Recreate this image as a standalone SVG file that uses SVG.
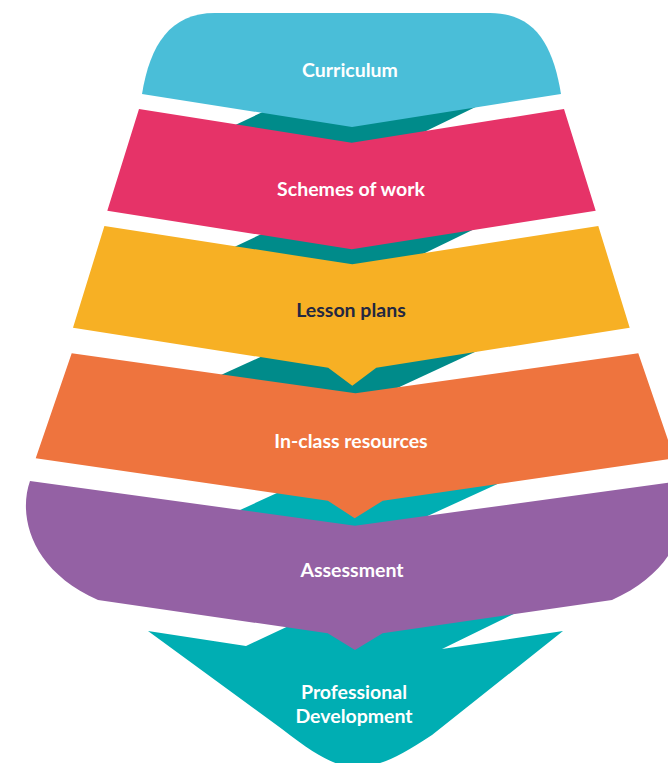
<svg xmlns="http://www.w3.org/2000/svg" width="668" height="763" viewBox="0 0 668 763">
<style>
.lbl{font-family:Lato,"Open Sans","Liberation Sans",sans-serif;font-weight:700;font-size:19.5px;text-anchor:middle;fill:#ffffff}
.dark{fill:#232741}
.tealD{fill:#008B8A}
.tealL{fill:#00AEB3}
</style>
<rect width="668" height="763" fill="#ffffff"/>
<g id="connectors">
<polygon class="tealD" points="215,134.5 275,106.2 490,100 405,141.2 352,150"/>
<polygon class="tealD" points="215,256 275,227.7 490,221.5 405,262.7 352,271.5"/>
<polygon class="tealD" points="200,384.6 280,348 490,345.1 380,396 355,400"/>
<polygon class="tealL" points="215,521.5 295,484.8 510,478.2 410,524.1 355,530"/>
</g>
<g id="professional-development">
<path class="tealL" d="M148 631 L246 646 L295 623 L520 611 L442 649 L563 631 L432 735 C395 760 375 767 356 767 C337 767 318 757 282 729 Z"/>
<text class="lbl" x="354" y="699">Professional</text>
<text class="lbl" x="354" y="723">Development</text>
</g>
<g id="curriculum">
<path fill="#4ABED8" d="M142 94 C150 45 170 13 215 13 L490 13 C535 13 553 45 561 94 L352 127 Z"/>
<text class="lbl" x="350" y="77">Curriculum</text>
</g>
<g id="schemes-of-work">
<polygon fill="#E63368" points="139,109 351.7,142.7 564,109 595.7,210.7 351.7,249.3 107.3,210.7"/>
<text class="lbl" x="351" y="196">Schemes of work</text>
</g>
<g id="lesson-plans">
<polygon fill="#F7B024" points="104.4,226 352.3,264.3 598.3,226 629.7,327.7 376.3,367.7 352.3,385.7 328.2,367.7 73,327.7"/>
<text class="lbl dark" x="351" y="317">Lesson plans</text>
</g>
<g id="in-class-resources">
<polygon fill="#EE743E" points="71.7,353.3 355.5,393.3 638.3,353.3 674.3,458.3 382.8,500.7 354.7,518.3 327.9,500.7 35.7,458.3"/>
<text class="lbl" x="351" y="448">In-class resources</text>
</g>
<g id="assessment">
<path fill="#9461A4" d="M30 481 L355 525.7 L680 481 C692 515 680 570 612 600 L382.6 633.3 L355 650 L327.7 633.3 L98 600 C30 570 18 515 30 481 Z"/>
<text class="lbl" x="352" y="577">Assessment</text>
</g>
</svg>
